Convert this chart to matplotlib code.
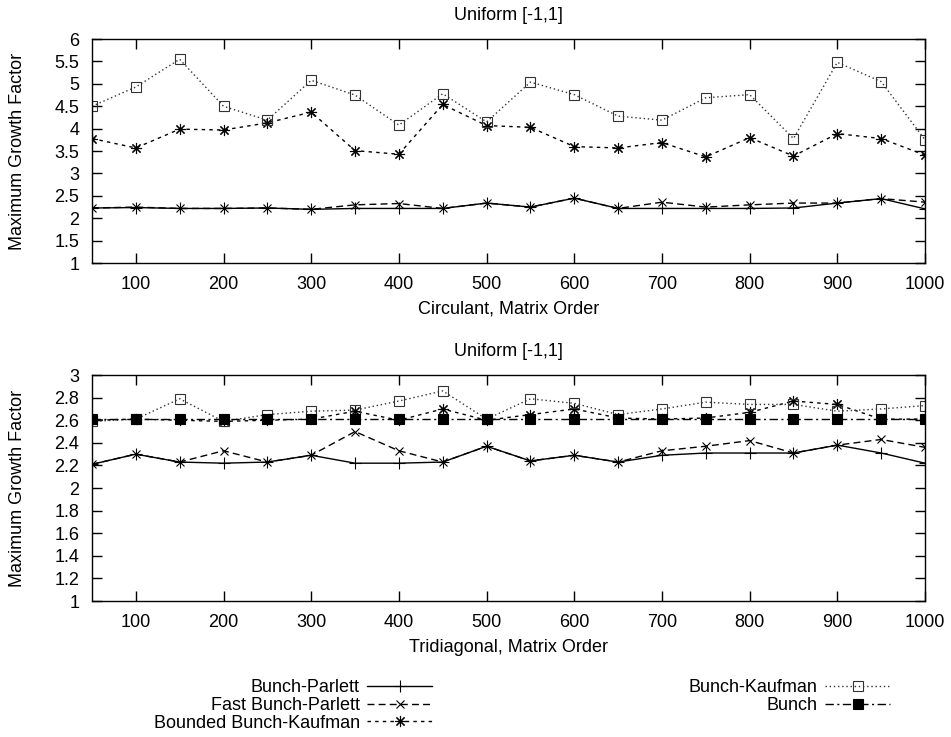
import matplotlib
matplotlib.use('Agg')
import matplotlib.pyplot as plt

plt.rcParams['font.family'] = ['Liberation Sans', 'DejaVu Sans']
plt.rcParams['font.size'] = 13

order = [50, 100, 150, 200, 250, 300, 350, 400, 450, 500,
         550, 600, 650, 700, 750, 800, 850, 900, 950, 1000]

# Circulant matrices
circ_bp = [2.23, 2.24, 2.22, 2.22, 2.23, 2.20, 2.22, 2.22, 2.22, 2.34,
           2.25, 2.45, 2.22, 2.22, 2.22, 2.22, 2.23, 2.34, 2.44, 2.21]
circ_fbp = [2.23, 2.25, 2.22, 2.22, 2.23, 2.20, 2.30, 2.33, 2.22, 2.34,
            2.25, 2.45, 2.22, 2.36, 2.25, 2.30, 2.34, 2.34, 2.44, 2.36]
circ_bbk = [3.78, 3.57, 3.99, 3.97, 4.13, 4.37, 3.51, 3.43, 4.54, 4.07,
            4.03, 3.60, 3.57, 3.69, 3.37, 3.80, 3.39, 3.89, 3.78, 3.41]
circ_bk = [4.50, 4.93, 5.55, 4.50, 4.19, 5.08, 4.75, 4.08, 4.78, 4.15,
           5.04, 4.76, 4.28, 4.19, 4.69, 4.76, 3.78, 5.48, 5.05, 3.75]

# Tridiagonal matrices
tri_bp = [2.21, 2.30, 2.23, 2.22, 2.23, 2.29, 2.22, 2.22, 2.23, 2.37,
          2.24, 2.29, 2.23, 2.29, 2.31, 2.31, 2.31, 2.38, 2.31, 2.22]
tri_fbp = [2.21, 2.30, 2.23, 2.33, 2.23, 2.29, 2.50, 2.33, 2.23, 2.37,
           2.24, 2.29, 2.23, 2.33, 2.37, 2.42, 2.31, 2.38, 2.43, 2.36]
tri_bbk = [2.60, 2.61, 2.60, 2.59, 2.60, 2.61, 2.68, 2.60, 2.70, 2.60,
           2.65, 2.70, 2.62, 2.61, 2.62, 2.67, 2.77, 2.74, 2.61, 2.61]
tri_bk = [2.59, 2.61, 2.79, 2.59, 2.65, 2.68, 2.69, 2.77, 2.86, 2.61,
          2.79, 2.75, 2.65, 2.70, 2.76, 2.74, 2.74, 2.68, 2.70, 2.73]
tri_bunch = [2.61, 2.61, 2.61, 2.61, 2.61, 2.61, 2.61, 2.61, 2.61, 2.61,
             2.61, 2.61, 2.61, 2.61, 2.61, 2.61, 2.61, 2.61, 2.61, 2.61]

star = (8, 2, 0)
styles = {
    'Bunch-Parlett': dict(color='black', ls='-', lw=1, marker='+', ms=8, mew=0.8),
    'Fast Bunch-Parlett': dict(color='black', ls=(0, (5, 3)), lw=1, marker='x', ms=6, mew=0.8),
    'Bounded Bunch-Kaufman': dict(color='black', ls=(0, (2.5, 3)), lw=1, marker=star, ms=8, mew=0.8),
    'Bunch-Kaufman': dict(color='#333333', ls=(0, (1, 2)), lw=1, marker='s', ms=6.5, mew=0.8,
                          mfc='none'),
    'Bunch': dict(color='black', ls=(0, (6, 2.5, 1.5, 2.5)), lw=1, marker='s', ms=6.5, mew=0.8),
}

fig = plt.figure(figsize=(9.51, 7.37), dpi=100)
ax1 = fig.add_axes([0.0967, 0.643, 0.876, 0.304])
ax2 = fig.add_axes([0.0967, 0.1845, 0.876, 0.3066])

ax1.plot(order, circ_bp, **styles['Bunch-Parlett'])
ax1.plot(order, circ_fbp, **styles['Fast Bunch-Parlett'])
ax1.plot(order, circ_bbk, **styles['Bounded Bunch-Kaufman'])
ax1.plot(order, circ_bk, **styles['Bunch-Kaufman'])

h_bp, = ax2.plot(order, tri_bp, label='Bunch-Parlett', **styles['Bunch-Parlett'])
h_fbp, = ax2.plot(order, tri_fbp, label='Fast Bunch-Parlett', **styles['Fast Bunch-Parlett'])
h_bbk, = ax2.plot(order, tri_bbk, label='Bounded Bunch-Kaufman', **styles['Bounded Bunch-Kaufman'])
h_bk, = ax2.plot(order, tri_bk, label='Bunch-Kaufman', **styles['Bunch-Kaufman'])
h_b, = ax2.plot(order, tri_bunch, label='Bunch', **styles['Bunch'])

for ax, xlab in [(ax1, 'Circulant, Matrix Order'), (ax2, 'Tridiagonal, Matrix Order')]:
    ax.set_xlim(50, 1000)
    ax.set_xticks(range(100, 1001, 100))
    ax.set_xlabel(xlab, labelpad=6)
    ax.set_ylabel('Maximum Growth Factor')
    ax.yaxis.set_label_coords(-0.079, 0.5)
    ax.set_title('Uniform [-1,1]', fontsize=13, pad=14)
    ax.tick_params(direction='in', top=True, right=True, length=7, width=1, pad=9)
    for s in ax.spines.values():
        s.set_linewidth(1)

ax1.set_ylim(1, 6)
ax1.set_yticks([1, 1.5, 2, 2.5, 3, 3.5, 4, 4.5, 5, 5.5, 6])
ax1.set_yticklabels(['1', '1.5', '2', '2.5', '3', '3.5', '4', '4.5', '5', '5.5', '6'])
ax2.set_ylim(1, 3)
ax2.set_yticks([1, 1.2, 1.4, 1.6, 1.8, 2, 2.2, 2.4, 2.6, 2.8, 3])
ax2.set_yticklabels(['1', '1.2', '1.4', '1.6', '1.8', '2', '2.2', '2.4', '2.6', '2.8', '3'])

leg_kw = dict(frameon=False, markerfirst=False, handlelength=3.6, handletextpad=0.4,
              labelspacing=0.05, borderpad=0, borderaxespad=0, fontsize=13)
leg1 = fig.legend(handles=[h_bp, h_fbp, h_bbk], loc='upper right',
                  bbox_to_anchor=(432 / 951, 1 - 679 / 737), **leg_kw)
leg2 = fig.legend(handles=[h_bk, h_b], loc='upper right',
                  bbox_to_anchor=(890 / 951, 1 - 679 / 737), **leg_kw)

fig.savefig('out.png', dpi=100)
